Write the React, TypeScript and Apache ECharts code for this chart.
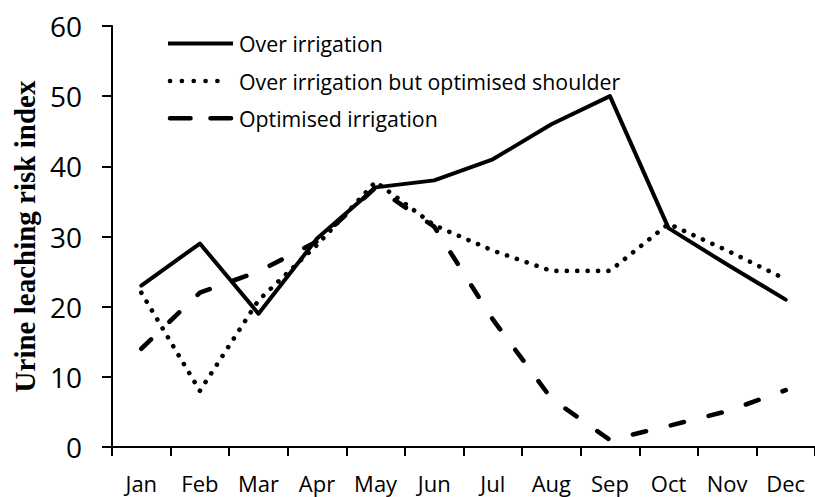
import React, { useEffect, useRef } from "react";
import * as echarts from "echarts";

const months = ["Jan", "Feb", "Mar", "Apr", "May", "Jun", "Jul", "Aug", "Sep", "Oct", "Nov", "Dec"];
const overIrrigation = [23, 29, 19, 29.7, 37, 38, 41, 46, 50, 31.2, 26, 21];
const overIrrigationOptShoulder = [22, 8, 20.9, 28.8, 37.8, 31.6, 28, 25.1, 25.1, 31.8, 28, 23.9];
const optimisedIrrigation = [14, 22, 25, 29.3, 37, 31.4, 18.2, 6.9, 1.0, 3, 5.1, 8.1];
const seriesNames = [
  "Over irrigation",
  "Over irrigation but optimised shoulder",
  "Optimised irrigation",
];
const yMin = 0;
const yMax = 60;
const yInterval = 10;
const yAxisTitle = "Urine leaching risk index";

const SANS = "'Open Sans', 'Noto Sans', sans-serif";

const legendRowsY = [43.5, 81, 118.3];
const legendLineStyles = [
  { x1: 168, x2: 233, lineWidth: 4, lineDash: null as number[] | null, lineCap: "butt" },
  { x1: 170, x2: 229.2, lineWidth: 4.6, lineDash: [0.1, 11.74], lineCap: "round" },
  { x1: 170, x2: 231, lineWidth: 4.6, lineDash: [20.5, 20], lineCap: "round" },
];

export default function App() {
  const ref = useRef<HTMLDivElement>(null);
  useEffect(() => {
    if (!ref.current) return;
    const chart = echarts.init(ref.current, null, { renderer: "svg" });
    const legendGraphics: any[] = [];
    seriesNames.forEach((name, i) => {
      const ls = legendLineStyles[i];
      legendGraphics.push({
        type: "line",
        shape: { x1: ls.x1, y1: legendRowsY[i], x2: ls.x2, y2: legendRowsY[i] },
        style: {
          stroke: "#000",
          lineWidth: ls.lineWidth,
          lineDash: ls.lineDash || undefined,
          lineCap: ls.lineCap,
        },
        silent: true,
      });
      legendGraphics.push({
        type: "text",
        x: 239,
        y: legendRowsY[i],
        style: {
          text: name,
          fontFamily: SANS,
          fontSize: 21.3,
          fill: "#000",
          textVerticalAlign: "middle",
          verticalAlign: "middle",
          align: "left",
        },
        silent: true,
      });
    });
    chart.setOption({
      animation: false,
      backgroundColor: "#ffffff",
      grid: { left: 112, top: 26, width: 708.6, height: 421, containLabel: false },
      graphic: legendGraphics,
      xAxis: {
        type: "category",
        data: months,
        boundaryGap: true,
        axisLine: { lineStyle: { color: "#000", width: 2 } },
        axisTick: { show: true, length: 9, lineStyle: { color: "#000", width: 2 } },
        axisLabel: { fontFamily: SANS, fontSize: 22, color: "#000", margin: 25, interval: 0 },
        splitLine: { show: false },
      },
      yAxis: {
        type: "value",
        min: yMin,
        max: yMax,
        interval: yInterval,
        name: yAxisTitle,
        nameLocation: "middle",
        nameRotate: 90,
        nameGap: 72,
        nameTextStyle: {
          fontFamily: "'Liberation Serif', 'DejaVu Serif', serif",
          fontWeight: "bold",
          fontSize: 29,
          color: "#000",
        },
        axisLine: { show: true, lineStyle: { color: "#000", width: 2 } },
        axisTick: { show: true, length: 10, lineStyle: { color: "#000", width: 2 } },
        axisLabel: { fontFamily: SANS, fontSize: 28, color: "#000", margin: 30 },
        splitLine: { show: false },
      },
      series: [
        {
          name: seriesNames[0],
          type: "line",
          data: overIrrigation,
          symbol: "none",
          smooth: false,
          lineStyle: { color: "#000", width: 4, cap: "round", join: "round" },
          z: 3,
        },
        {
          name: seriesNames[1],
          type: "line",
          data: overIrrigationOptShoulder,
          symbol: "none",
          smooth: false,
          lineStyle: { color: "#000", width: 4.6, type: [0.1, 10.3], cap: "round", join: "round" },
          z: 2,
        },
        {
          name: seriesNames[2],
          type: "line",
          data: optimisedIrrigation,
          symbol: "none",
          smooth: false,
          lineStyle: { color: "#000", width: 4.6, type: [13.5, 25.5], cap: "round", join: "round" },
          z: 2,
        },
      ],
    });
    return () => chart.dispose();
  }, []);
  return (
    <div
      ref={ref}
      style={{ position: "fixed", left: 0, top: 0, width: 815, height: 497, background: "#fff" }}
    />
  );
}
